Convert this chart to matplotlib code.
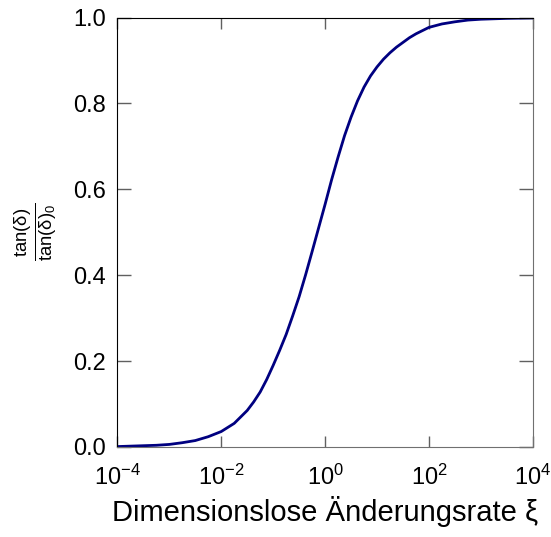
import numpy as np
import matplotlib
matplotlib.use("Agg")
import matplotlib.pyplot as plt
from matplotlib.ticker import NullLocator

# values (log10 of xi, ratio)
log_xi = [-4.0, -3.75, -3.5, -3.25, -3.0, -2.75, -2.5, -2.25, -2.0, -1.75, -1.5, -1.375,
          -1.25, -1.125, -1.0, -0.875, -0.75, -0.625, -0.5, -0.375, -0.25, -0.125, 0.0,
          0.125, 0.25, 0.375, 0.5, 0.625, 0.75, 0.875, 1.0, 1.125, 1.25, 1.375, 1.5,
          1.625, 1.75, 2.0, 2.25, 2.5, 2.75, 3.0, 3.5, 4.0]
ratio = [0.001, 0.002, 0.003, 0.004, 0.006, 0.010, 0.015, 0.024, 0.036, 0.055, 0.085, 0.105,
         0.128, 0.157, 0.190, 0.225, 0.262, 0.305, 0.350, 0.401, 0.455, 0.510, 0.565,
         0.622, 0.675, 0.725, 0.768, 0.806, 0.838, 0.864, 0.885, 0.903, 0.918, 0.931, 0.942,
         0.953, 0.962, 0.977, 0.985, 0.990, 0.994, 0.996, 0.998, 0.999]
xticks = [1e-4, 1e-2, 1e0, 1e2, 1e4]
yticks = [0.0, 0.2, 0.4, 0.6, 0.8, 1.0]

plt.rcParams['font.family'] = ['Liberation Sans', 'DejaVu Sans']
plt.rcParams['mathtext.fontset'] = 'custom'
plt.rcParams['mathtext.rm'] = 'Liberation Sans'
plt.rcParams['mathtext.it'] = 'Liberation Sans'

fig = plt.figure(figsize=(5.51, 5.37), dpi=100)
ax = fig.add_axes([0.213, 0.1676, 0.754, 0.7998])

ax.plot(10 ** np.array(log_xi), ratio, color='#000080', lw=2, solid_joinstyle='round')

ax.set_xscale('log')
ax.set_xlim(1e-4, 1e4)
ax.set_ylim(0, 1)
ax.set_xticks(xticks)
ax.xaxis.set_minor_locator(NullLocator())
ax.set_yticks(yticks)
ax.set_yticklabels([f"{v:.1f}" for v in yticks])

ax.tick_params(direction='in', length=8, width=1, color='#606060', labelsize=17,
               top=True, right=True)
ax.tick_params(axis='y', length=10, pad=8)
ax.tick_params(axis='x', pad=13)
for side in ['left', 'top']:
    ax.spines[side].set_color('black')
for side in ['right', 'bottom']:
    ax.spines[side].set_color('#707070')

ax.set_xlabel('Dimensionslose Änderungsrate ξ', fontsize=21, labelpad=4)
ax.set_ylabel(r'$\frac{\mathrm{tan(\delta)}}{\mathrm{tan(\delta)_0}}$', fontsize=19, labelpad=10)

fig.savefig('out.png', dpi=100)
